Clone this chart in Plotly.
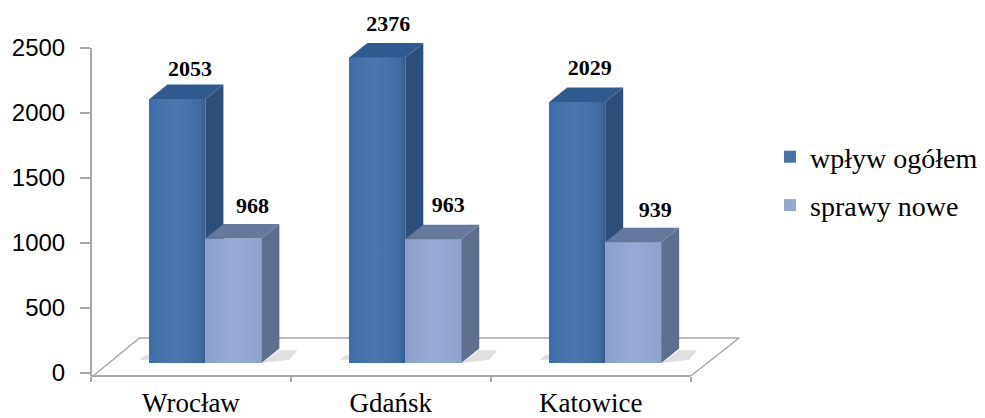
import plotly.graph_objects as go

cities = ["Wrocław", "Gdańsk", "Katowice"]
wplyw = [2053, 2376, 2029]
nowe = [968, 963, 939]
tick_values = [0, 500, 1000, 1500, 2000, 2500]

SERIF = "Liberation Serif"
SANS = "Liberation Sans"
GRAY = "#A8A8A8"

PAGE = 8             # page margin round the figure
W, H = 985 - PAGE, 418 - PAGE
L, T, B = 90.5 - PAGE, 0, 376 - PAGE
ux = 200.0           # px per category
BAR_W = 0.28
SHIFT = 0.0725       # front plane sits right of the axis plane
DX = 18 / ux         # depth of a bar, x
back_scale = 0.13    # px per unit on the axis plane
front_scale = 0.1286 # px per unit on the front plane
zero_back = 373 - PAGE
zero_front = 363 - PAGE
DY = 14.5 / front_scale
x_range = [-0.5, -0.5 + (W - L) / ux]
y_back = [(zero_back - B) / back_scale, (zero_back - T) / back_scale]
y_front = [(zero_front - B) / front_scale, (zero_front - T) / front_scale]

fig = go.Figure()

# floor
fig.add_trace(go.Scatter(
    x=[-0.49, -0.2575, 2.7425, 2.5], y=[-23, 269, 269, -23], mode="lines",
    line=dict(color=GRAY, width=1.5), showlegend=False, hoverinfo="skip"))


def series(name, values, offset, yaxis, front, ramp, side, top, label_dx, label_dy, shadow_l):
    xs = list(range(len(values)))
    for i in xs:
        l, r = i + offset, i + offset + BAR_W
        if shadow_l:
            sx = [l - 0.05, l, l, l - 0.02]
            sy = [25, 25, 60, 60]
        else:
            sx = [r, r + DX + 0.05, r + DX + 0.09, r + DX]
            sy = [0, 25, 100, 100]
        fig.add_trace(go.Scatter(x=sx, y=sy, yaxis=yaxis, mode="lines", fill="toself",
                                 line=dict(width=0), fillcolor="rgba(150,150,150,0.3)",
                                 showlegend=False, hoverinfo="skip"))
    fig.add_trace(go.Bar(
        x=xs, y=values, name=name, yaxis=yaxis, offset=offset, width=BAR_W,
        marker=dict(color=front, line=dict(width=0)), legendgroup=name, hoverinfo="skip"))
    for i, v in zip(xs, values):
        l, r = i + offset, i + offset + BAR_W
        # shading across the front face of the bar
        fig.add_trace(go.Scatter(
            x=[l, r, r, l], y=[0, 0, v, v], yaxis=yaxis, mode="lines", fill="toself",
            fillgradient=dict(type="horizontal", colorscale=ramp), line=dict(width=0),
            showlegend=False, hoverinfo="skip"))
        fig.add_trace(go.Scatter(
            x=[r, r + DX, r + DX, r], y=[0, DY, v + DY, v], yaxis=yaxis, mode="lines",
            fill="toself", fillcolor=side, line=dict(width=0),
            showlegend=False, hoverinfo="skip"))
        fig.add_trace(go.Scatter(
            x=[l, l + DX, r + DX, r], y=[v, v + DY, v + DY, v], yaxis=yaxis, mode="lines",
            fill="toself", fillcolor=top, line=dict(width=0),
            showlegend=False, hoverinfo="skip"))
    fig.add_trace(go.Scatter(
        x=[i + offset + BAR_W / 2 + dx for i, dx in zip(xs, label_dx)],
        y=[v + dy / front_scale for v, dy in zip(values, label_dy)],
        yaxis=yaxis, mode="text", text=[str(v) for v in values], textposition="middle center",
        textfont=dict(family=SERIF, size=22, color="black", weight="bold"),
        showlegend=False, hoverinfo="skip"))


series("wpływ ogółem", wplyw, SHIFT - BAR_W, "y2", "#4472A9",
       [[0, "#3E6CA6"], [0.45, "#4A77AE"], [0.9, "#3F6CA2"], [1, "#345C8C"]],
       "#2C4F7C", "#2F5A8F", [0.0625, 0.055, 0.0625], [28, 32, 33], True)
series("sprawy nowe", nowe, SHIFT, "y3", "#94A8D1",
       [[0, "#8CA0CB"], [0.5, "#98ABD4"], [1, "#8DA1CB"]],
       "#5E6E8F", "#66789B", [0.095, 0.075, 0.11], [31, 33, 31], False)

fig.add_shape(type="line", xref="paper", yref="y", x0=0, x1=0, y0=y_back[0], y1=2500,
              line=dict(color=GRAY, width=2))
fig.add_shape(type="line", xref="x", yref="paper", x0=-0.5, x1=2.5, y0=0, y1=0,
              line=dict(color=GRAY, width=2))

fig.update_layout(
    width=W, height=H, paper_bgcolor="white", plot_bgcolor="rgba(0,0,0,0)",
    barmode="overlay", bargap=0,
    margin=dict(l=L, r=0, t=T, b=H - B, autoexpand=False),
    xaxis=dict(
        range=x_range, tickmode="array", tickvals=[0, 1, 2], ticktext=cities,
        ticks="", ticklen=0, showline=False, showgrid=False,
        zeroline=False, ticklabelstandoff=8,
        tickfont=dict(family=SERIF, size=27, color="black"),
        minor=dict(tickmode="array", tickvals=[-0.5, 0.5, 1.5, 2.5], ticks="outside",
                   ticklen=5, tickwidth=2, tickcolor=GRAY, showgrid=False)),
    yaxis=dict(
        range=y_back, tickmode="array", tickvals=tick_values, ticks="outside", ticklen=10,
        tickwidth=2, tickcolor=GRAY, showline=False,
        showgrid=False, zeroline=False, ticklabelstandoff=10,
        tickfont=dict(family=SANS, size=24, color="black")),
    yaxis2=dict(range=y_front, overlaying="y", visible=False, anchor="x"),
    yaxis3=dict(range=y_front, overlaying="y", visible=False, anchor="x"),
    legend=dict(
        x=(770 - PAGE) / W, xanchor="left", xref="container",
        y=1 - (132 - PAGE) / H, yanchor="top", yref="container",
        font=dict(family=SERIF, size=28, color="black"), tracegroupgap=9,
        bgcolor="rgba(0,0,0,0)", itemclick=False, itemdoubleclick=False),
    showlegend=True,
)

fig.write_html("out.html")
